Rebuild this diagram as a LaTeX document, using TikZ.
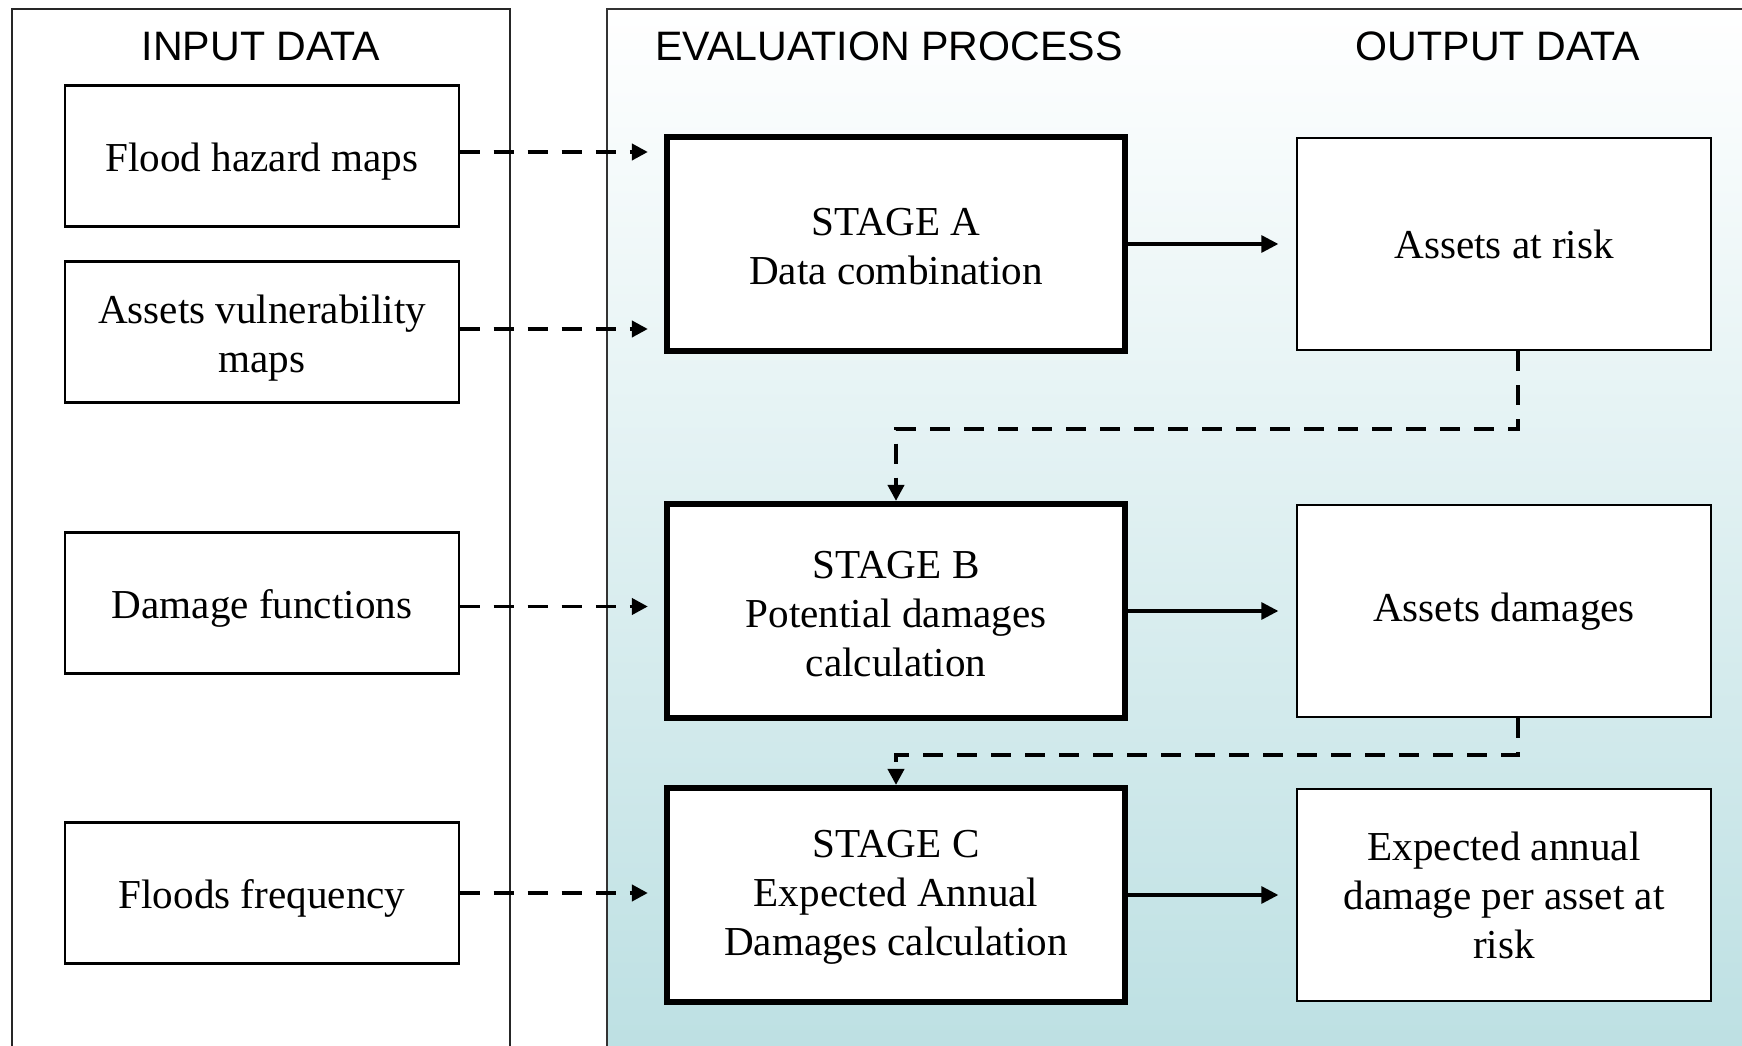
\documentclass[tikz,border=0pt]{standalone}
\usepackage{fontspec}
\setmainfont{Liberation Serif}
\setsansfont{Liberation Sans}
\usetikzlibrary{arrows.meta}
\newcommand{\lift}[1]{\rule{0pt}{#1}}
\tikzset{
  inbox/.style={draw, line width=0.6pt, fill=white, minimum width=3.93cm, minimum height=1.41cm, align=center, inner sep=0pt, execute at begin node={\lift{11.1pt}}},
  stagebox/.style={draw, line width=1.7pt, fill=white, minimum width=4.57cm, minimum height=2.14cm, align=center, inner sep=0pt},
  outbox/.style={draw, line width=0.6pt, fill=white, minimum width=4.13cm, minimum height=2.12cm, align=center, inner sep=0pt, execute at begin node={\lift{8.6pt}}},
  dashlink/.style={line width=1.1pt, dash pattern=on 0.2cm off 0.14cm, -{Triangle[length=0.16cm,width=0.16cm]}},
  solidlink/.style={line width=0.9pt, -{Triangle[length=0.17cm,width=0.17cm]}},
  heading/.style={font=\sffamily\fontsize{11.7}{14}\selectfont}
}

\begin{document}
\begin{tikzpicture}[x=0.01cm, y=-0.01cm, font=\fontsize{11.7}{13.95}\selectfont]
			%%%%% FRAME %%%%%
			\useasboundingbox (0,0) rectangle (1742,1046);
			
			\draw[line width=0.7pt, draw=black!85] (12,9) rectangle (510,1080);
			\draw[line width=0.8pt, draw=black!80, top color=white, bottom color={rgb,255:red,187;green,223;blue,226}] (607,9) rectangle (1790,1080);
			
			\node[heading] (inhead) at (261,46.5) {INPUT DATA};
			\node[heading] (evalhead) at (889,46.5) {EVALUATION PROCESS};
			\node[heading] (outhead) at (1498,46.5) {OUTPUT DATA};
			
			%%%%% INPUT %%%%%
			\node[inbox] (flood) at (262,156) {Flood hazard maps};
			\node[inbox] (vuln) at (262,332) {\lift{11.8pt}Assets vulnerability\\maps};
			\node[inbox] (dmgfun) at (262,603) {Damage functions};
			\node[inbox] (freq) at (262,893) {Floods frequency};
			
			%%%%% STAGES %%%%%
			\node[stagebox] (stageA) at (896,244) {\lift{9.3pt}STAGE A\\Data combination};
			\node[stagebox] (stageB) at (896,611) {\lift{9.3pt}STAGE B\\Potential damages\\calculation};
			\node[stagebox] (stageC) at (896,895) {\lift{9.3pt}STAGE C\\Expected Annual\\Damages calculation};
			
			%%%%% OUTPUT %%%%%
			\node[outbox] (atrisk) at (1504,244) {Assets at risk};
			\node[outbox] (damages) at (1504,611) {Assets damages};
			\node[outbox] (ead) at (1504,895) {Expected annual\\damage per asset at\\risk};
			
			%%%%% LINKS %%%%%
			\draw[dashlink, shorten >=0.165cm] ([yshift=0.04cm]flood.east) -- ([yshift=0.04cm]flood.east -| stageA.west);
			\draw[dashlink, shorten >=0.165cm] ([yshift=0.03cm]vuln.east) -- ([yshift=0.03cm]vuln.east -| stageA.west);
			\draw[dashlink, shorten >=0.165cm] ([yshift=-0.035cm]dmgfun.east) -- ([yshift=-0.035cm]dmgfun.east -| stageB.west);
			\draw[dashlink, shorten >=0.165cm] (freq.east) -- (freq.east -| stageC.west);
			
			\draw[solidlink, shorten >=0.18cm] (stageA.east) -- (atrisk.west);
			\draw[solidlink, shorten >=0.18cm] (stageB.east) -- (damages.west);
			\draw[solidlink, shorten >=0.18cm] (stageC.east) -- (ead.west);
			
			\draw[dashlink] ([xshift=0.14cm]atrisk.south) -- ++(0,78) -| (stageB.north);
			\draw[dashlink] ([xshift=0.14cm]damages.south) -- ++(0,37) -| (stageC.north);
			
			%%%%% END %%%%%
\end{tikzpicture}
\end{document}
